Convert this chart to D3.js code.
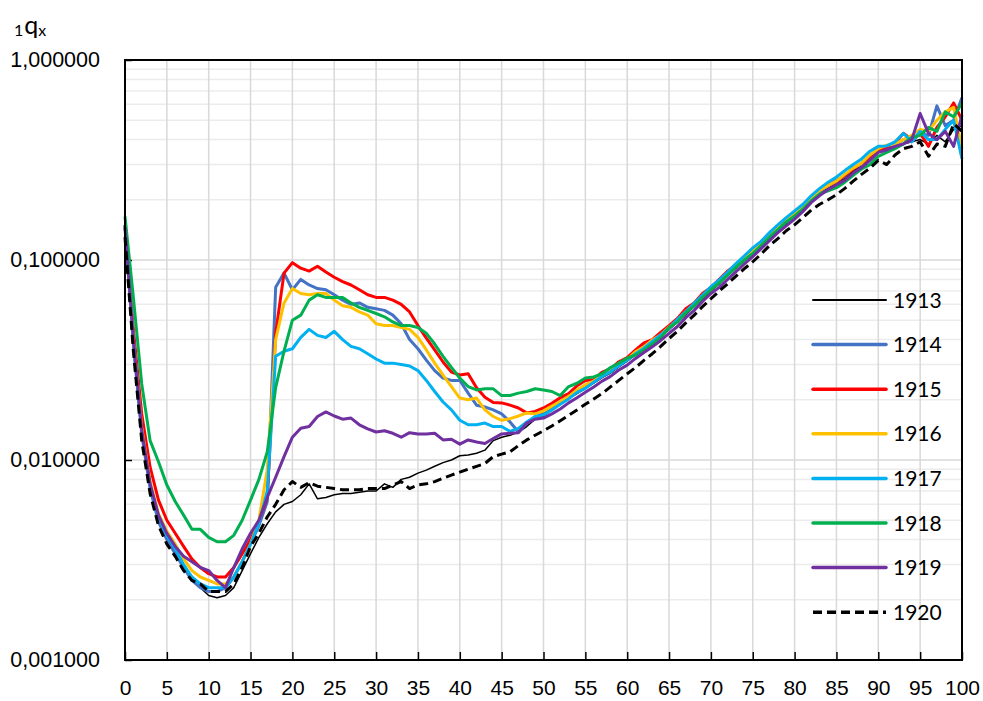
<!DOCTYPE html>
<html>
<head>
<meta charset="utf-8">
<script src="https://cdn.jsdelivr.net/npm/d3@7"></script>
<style>
  body { margin: 0; background: #fff; }
  svg { display: block; font-family: Lato, "Open Sans", sans-serif; }
</style>
</head>
<body>
<div id="chart-container"></div>
<script>
// ages 0..100, one value per year of age
const ages = d3.range(0, 101);

const years = ["1913", "1914", "1915", "1916", "1917", "1918", "1919", "1920"];

const q1913 = [0.150, 0.040, 0.014, 0.0075, 0.0052, 0.0041, 0.0035, 0.0029, 0.0025, 0.0023,
  0.0021, 0.00205, 0.0021, 0.0023, 0.0028, 0.0034, 0.0041, 0.0048, 0.0055, 0.0060,
  0.0062, 0.0067, 0.0076, 0.0064, 0.0065, 0.0067, 0.0068, 0.0068, 0.0069, 0.0070,
  0.0070, 0.0076, 0.0073, 0.0080, 0.0082, 0.0086, 0.0089, 0.0093, 0.0097, 0.0100,
  0.0105, 0.0106, 0.0108, 0.0112, 0.0125, 0.0130, 0.0133, 0.0138, 0.0147, 0.0160,
  0.0166, 0.0178, 0.0190, 0.0203, 0.0215, 0.0228, 0.0242, 0.0258, 0.0272, 0.0292,
  0.0312, 0.0335, 0.0360, 0.0385, 0.0415, 0.0448, 0.0490, 0.0535, 0.0585, 0.0640,
  0.070, 0.076, 0.084, 0.091, 0.099, 0.107, 0.118, 0.129, 0.141, 0.153,
  0.165, 0.180, 0.198, 0.215, 0.228, 0.240, 0.256, 0.278, 0.295, 0.318,
  0.345, 0.36, 0.37, 0.38, 0.39, 0.40, 0.38, 0.42, 0.39, 0.45, 0.47];

const q1914 = [0.150, 0.038, 0.0135, 0.0072, 0.0049, 0.0040, 0.0034, 0.0029, 0.0025, 0.0023,
  0.0022, 0.0022, 0.0023, 0.0026, 0.0031, 0.0038, 0.0047, 0.0062, 0.073, 0.086,
  0.071, 0.080, 0.075, 0.072, 0.071, 0.067, 0.063, 0.060, 0.061, 0.058,
  0.057, 0.056, 0.053, 0.048, 0.040, 0.036, 0.0316, 0.028, 0.0257, 0.025,
  0.025, 0.0216, 0.0188, 0.0184, 0.0178, 0.0170, 0.0155, 0.0138, 0.0152, 0.0163,
  0.0172, 0.0184, 0.0195, 0.0212, 0.0222, 0.0232, 0.0250, 0.0262, 0.0282, 0.0298,
  0.0322, 0.0342, 0.0372, 0.0392, 0.0428, 0.0455, 0.0505, 0.0545, 0.0605, 0.0655,
  0.0725, 0.0775, 0.0865, 0.0935, 0.103, 0.109, 0.122, 0.132, 0.146, 0.157,
  0.172, 0.184, 0.207, 0.220, 0.238, 0.250, 0.262, 0.290, 0.300, 0.330,
  0.355, 0.37, 0.375, 0.40, 0.39, 0.43, 0.42, 0.59, 0.47, 0.50, 0.65];

const q1915 = [0.150, 0.045, 0.017, 0.0092, 0.0063, 0.0050, 0.0043, 0.0037, 0.0032, 0.0029,
  0.0027, 0.0026, 0.0026, 0.0029, 0.0034, 0.0040, 0.0049, 0.0065, 0.043, 0.086,
  0.097, 0.091, 0.088, 0.093, 0.087, 0.082, 0.078, 0.075, 0.071, 0.067,
  0.065, 0.065, 0.063, 0.060, 0.055, 0.047, 0.0407, 0.0355, 0.0309, 0.0275,
  0.0266, 0.027, 0.023, 0.0206, 0.0194, 0.0193, 0.0188, 0.0182, 0.0172, 0.0175,
  0.0182, 0.0192, 0.0205, 0.0215, 0.0235, 0.025, 0.0252, 0.0275, 0.0285, 0.031,
  0.0325, 0.0355, 0.0385, 0.040, 0.0435, 0.047, 0.051, 0.057, 0.061, 0.068,
  0.073, 0.080, 0.088, 0.095, 0.103, 0.111, 0.123, 0.135, 0.146, 0.160,
  0.171, 0.187, 0.205, 0.224, 0.236, 0.246, 0.265, 0.285, 0.305, 0.325,
  0.35, 0.365, 0.385, 0.43, 0.40, 0.43, 0.37, 0.46, 0.52, 0.61, 0.50];

const q1916 = [0.150, 0.040, 0.0145, 0.0078, 0.0054, 0.0044, 0.0038, 0.0032, 0.0028, 0.0026,
  0.0025, 0.0024, 0.0024, 0.0026, 0.0031, 0.0038, 0.0050, 0.0090, 0.040, 0.061,
  0.072, 0.068, 0.067, 0.068, 0.068, 0.063, 0.059, 0.058, 0.055, 0.053,
  0.048, 0.047, 0.047, 0.046, 0.045, 0.041, 0.0355, 0.0305, 0.0266, 0.0233,
  0.0204, 0.020, 0.0204, 0.0178, 0.0165, 0.0158, 0.0161, 0.0166, 0.0172, 0.0170,
  0.0176, 0.0186, 0.0196, 0.0208, 0.0224, 0.0238, 0.0248, 0.0268, 0.0278, 0.0302,
  0.0318, 0.0348, 0.0368, 0.0398, 0.0422, 0.0462, 0.0498, 0.0552, 0.0598, 0.0662,
  0.0718, 0.0785, 0.0855, 0.0945, 0.1015, 0.111, 0.120, 0.134, 0.144, 0.159,
  0.169, 0.186, 0.204, 0.223, 0.236, 0.248, 0.268, 0.288, 0.305, 0.335,
  0.36, 0.375, 0.38, 0.40, 0.42, 0.45, 0.44, 0.50, 0.55, 0.58, 0.36];

const q1917 = [0.150, 0.039, 0.014, 0.0075, 0.0052, 0.0042, 0.0036, 0.0030, 0.0026, 0.0024,
  0.0023, 0.0023, 0.0023, 0.0026, 0.0031, 0.0038, 0.0048, 0.0070, 0.033, 0.035,
  0.036, 0.041, 0.045, 0.042, 0.041, 0.044, 0.040, 0.037, 0.036, 0.034,
  0.032, 0.0305, 0.0305, 0.030, 0.0295, 0.028, 0.025, 0.022, 0.0195, 0.0178,
  0.0158, 0.015, 0.015, 0.0153, 0.0147, 0.0147, 0.0139, 0.0144, 0.0155, 0.0165,
  0.0168, 0.0178, 0.0190, 0.0202, 0.0218, 0.0228, 0.0245, 0.0262, 0.0276, 0.0296,
  0.0316, 0.0340, 0.0362, 0.0392, 0.0422, 0.0458, 0.0505, 0.0552, 0.0608, 0.0668,
  0.0735, 0.0795, 0.087, 0.096, 0.105, 0.115, 0.124, 0.137, 0.150, 0.163,
  0.176, 0.190, 0.210, 0.228, 0.245, 0.260, 0.280, 0.300, 0.320, 0.350,
  0.370, 0.372, 0.39, 0.43, 0.39, 0.44, 0.40, 0.40, 0.45, 0.50, 0.32];

const q1918 = [0.165, 0.065, 0.024, 0.0125, 0.0098, 0.0075, 0.0062, 0.0053, 0.0045, 0.0045,
  0.0041, 0.0039, 0.0039, 0.0042, 0.0050, 0.0063, 0.0080, 0.0110, 0.023, 0.035,
  0.050, 0.053, 0.063, 0.067, 0.065, 0.065, 0.065, 0.061, 0.058, 0.056,
  0.054, 0.052, 0.049, 0.047, 0.047, 0.046, 0.043, 0.038, 0.033, 0.029,
  0.0257, 0.0233, 0.0224, 0.0227, 0.0227, 0.021, 0.021, 0.0216, 0.022, 0.0227,
  0.0224, 0.022, 0.021, 0.0233, 0.0242, 0.0257, 0.026, 0.027, 0.029, 0.0305,
  0.0323, 0.0335, 0.0355, 0.038, 0.041, 0.046, 0.049, 0.0545, 0.059, 0.065,
  0.071, 0.077, 0.084, 0.092, 0.100, 0.108, 0.118, 0.130, 0.142, 0.155,
  0.166, 0.180, 0.198, 0.214, 0.222, 0.230, 0.245, 0.265, 0.285, 0.300,
  0.330, 0.345, 0.36, 0.38, 0.41, 0.42, 0.46, 0.44, 0.55, 0.52, 0.61];

const q1919 = [0.145, 0.040, 0.0140, 0.0076, 0.0053, 0.0043, 0.0037, 0.0033, 0.0031, 0.0029,
  0.0028, 0.0025, 0.0023, 0.0029, 0.0036, 0.0043, 0.0050, 0.0065, 0.0082, 0.0104,
  0.013, 0.0144, 0.0147, 0.0165, 0.0174, 0.0166, 0.016, 0.0162, 0.015, 0.0143,
  0.0138, 0.014, 0.0136, 0.013, 0.0137, 0.0135, 0.0135, 0.0136, 0.0126, 0.0127,
  0.012, 0.0126, 0.0123, 0.0121, 0.0128, 0.0135, 0.0136, 0.0137, 0.0153, 0.016,
  0.0162, 0.0170, 0.0180, 0.0193, 0.0205, 0.0218, 0.0232, 0.0248, 0.0262, 0.0282,
  0.0298, 0.0322, 0.0345, 0.0368, 0.0396, 0.0430, 0.0465, 0.0515, 0.0560, 0.0620,
  0.0680, 0.0730, 0.0800, 0.0875, 0.0955, 0.104, 0.114, 0.125, 0.137, 0.148,
  0.160, 0.175, 0.194, 0.210, 0.225, 0.238, 0.250, 0.272, 0.290, 0.315,
  0.345, 0.355, 0.37, 0.38, 0.40, 0.54, 0.43, 0.40, 0.44, 0.37, 0.53];

const q1920 = [0.130, 0.035, 0.0125, 0.0068, 0.0047, 0.0038, 0.0033, 0.0028, 0.0025, 0.0024,
  0.0022, 0.0022, 0.0022, 0.0024, 0.0029, 0.0037, 0.0043, 0.0052, 0.0060, 0.0071,
  0.0078, 0.0073, 0.0077, 0.0074, 0.0073, 0.0072, 0.0071, 0.0071, 0.0071, 0.0072,
  0.0072, 0.0072, 0.0075, 0.0078, 0.0072, 0.0075, 0.0076, 0.0078, 0.0081, 0.0084,
  0.0087, 0.0090, 0.0093, 0.0096, 0.0104, 0.0107, 0.0110, 0.0118, 0.0126, 0.0133,
  0.0140, 0.0148, 0.0157, 0.0167, 0.0178, 0.0190, 0.0202, 0.0215, 0.0232, 0.0250,
  0.0270, 0.0290, 0.0315, 0.0340, 0.0370, 0.0405, 0.0440, 0.0485, 0.0530, 0.0585,
  0.0640, 0.0700, 0.0760, 0.0830, 0.0905, 0.0980, 0.107, 0.118, 0.128, 0.140,
  0.150, 0.163, 0.178, 0.190, 0.200, 0.212, 0.228, 0.248, 0.268, 0.288,
  0.315, 0.300, 0.335, 0.360, 0.370, 0.390, 0.330, 0.380, 0.370, 0.480, 0.440];

const seriesValues = [q1913, q1914, q1915, q1916, q1917, q1918, q1919, q1920];

const xTicks = d3.range(0, 101, 5);
const yTicks = [0.001, 0.01, 0.1, 1];

// styles for each year, same order as years
const colors = ["#000000", "#4472C4", "#FF0000", "#FFC000", "#00B0F0", "#00B050", "#7030A0", "#000000"];
const widths = [1.5, 3, 3, 3, 3, 3, 3, 3];
const dashes = [null, null, null, null, null, null, null, "9,5"];

// Set dimensions and margins for the chart
const totalW = 983, totalH = 701;
const margin = { top: 60, right: 21, bottom: 41, left: 125 };
const width = totalW - margin.left - margin.right;
const height = totalH - margin.top - margin.bottom;

const x = d3.scaleLinear().domain([0, 100]).range([0, width]);
const y = d3.scaleLog().domain([0.001, 1]).range([height, 0]);

const svg = d3.select("#chart-container")
  .append("svg")
    .attr("width", totalW)
    .attr("height", totalH)
  .append("g")
    .attr("transform", `translate(${margin.left},${margin.top})`);

// horizontal gridlines (minor first, then decades)
const minorY = [];
[0.001, 0.01, 0.1].forEach(d => { for (let k = 2; k <= 9; k++) minorY.push(d * k); });

svg.selectAll(".yMinor")
  .data(minorY)
  .join("line")
  .attr("x1", 0).attr("x2", width)
  .attr("y1", d => y(d)).attr("y2", d => y(d))
  .attr("stroke", "#ececec")
  .attr("stroke-width", 1.5);

svg.selectAll(".yMajor")
  .data([0.01, 0.1])
  .join("line")
  .attr("x1", 0).attr("x2", width)
  .attr("y1", d => y(d)).attr("y2", d => y(d))
  .attr("stroke", "#d9d9d9")
  .attr("stroke-width", 1.5);

// vertical gridlines
svg.selectAll(".xGrid")
  .data(xTicks.slice(1, -1))
  .join("line")
  .attr("x1", d => x(d)).attr("x2", d => x(d))
  .attr("y1", 0).attr("y2", height)
  .attr("stroke", "#d9d9d9")
  .attr("stroke-width", 1.5);

// axes
const xAxis = svg.append("g")
  .attr("transform", `translate(0,${height})`)
  .call(d3.axisBottom(x).tickValues(xTicks).tickSize(-8).tickPadding(20).tickFormat(d3.format("d")));

const yAxis = svg.append("g")
  .call(d3.axisLeft(y).tickValues(yTicks).tickSize(-7).tickPadding(25)
    .tickFormat(d => d.toFixed(6).replace(".", ",")));

[xAxis, yAxis].forEach(g => {
  g.select(".domain").remove();
  g.selectAll(".tick line").attr("stroke", "#000").attr("stroke-width", 1.5);
  g.selectAll("text").style("font-size", "21px").attr("fill", "#000");
});
yAxis.selectAll("text").style("font-size", "21.5px");

// lines
const line = d3.line()
  .x((d, i) => x(ages[i]))
  .y(d => y(d));

svg.selectAll(".series")
  .data(seriesValues)
  .join("path")
  .attr("fill", "none")
  .attr("stroke", (d, i) => colors[i])
  .attr("stroke-width", (d, i) => widths[i])
  .attr("stroke-dasharray", (d, i) => dashes[i])
  .attr("stroke-linejoin", "round")
  .attr("d", line);

// plot border
svg.append("rect")
  .attr("width", width)
  .attr("height", height)
  .attr("fill", "none")
  .attr("stroke", "#000")
  .attr("stroke-width", 2);

// legend
const legend = svg.selectAll(".legend")
  .data(years)
  .join("g")
  .attr("transform", (d, i) => `translate(${813 - margin.left},${300 - margin.top + i * 44.6})`);

legend.append("line")
  .attr("x1", 0).attr("x2", 73)
  .attr("stroke", (d, i) => colors[i])
  .attr("stroke-width", (d, i) => i === 0 ? 2 : 3.5)
  .attr("stroke-linecap", (d, i) => i === 7 ? "butt" : "round")
  .attr("stroke-dasharray", (d, i) => dashes[i]);

legend.append("text")
  .attr("x", 80)
  .attr("dy", "0.36em")
  .style("font-size", "21px")
  .text(d => d);

// y axis title: 1qx
const title = d3.select("svg").append("text")
  .attr("x", 14)
  .attr("y", 34)
  .attr("fill", "#000");
title.append("tspan").style("font-size", "16px").attr("dy", 2).text("1");
title.append("tspan").style("font-size", "25px").attr("dx", 1).attr("dy", -2).text("q");
title.append("tspan").style("font-size", "16px").attr("dy", 2).text("x");
</script>
</body>
</html>
